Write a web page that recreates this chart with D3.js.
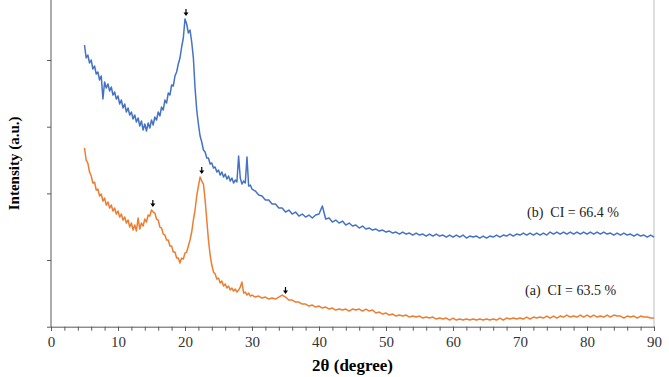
<!DOCTYPE html>
<html>
<head>
<meta charset="utf-8">
<script src="https://cdn.jsdelivr.net/npm/d3@7"></script>
<style>
  body { margin: 0; background: #fff; }
  svg text { font-family: "Liberation Serif", "Times New Roman", serif; }
</style>
</head>
<body>
<div id="chart"></div>
<script>
// 2theta sampling of the scans (fine steps up to 30, then 0.5 deg)
var twoTheta = d3.range(5, 30, 0.25).concat(d3.range(30, 90.01, 0.5));

// (b) CI = 66.4 %  (blue)
var countsB = [
  845, 806, 815, 791, 800, 773, 782, 758, 764, 740,
  752, 683, 734, 716, 728, 707, 719, 695, 704, 683,
  692, 668, 680, 656, 668, 644, 656, 635, 644, 623,
  635, 614, 626, 602, 617, 590, 608, 587, 611, 596,
  620, 605, 629, 620, 644, 632, 659, 650, 680, 671,
  701, 695, 725, 722, 752, 764, 788, 806, 839, 866,
  923, 908, 881, 890, 854, 806, 716, 650, 608, 572,
  554, 530, 524, 506, 506, 488, 491, 476, 479, 464,
  470, 455, 464, 449, 458, 443, 452, 437, 446, 431,
  440, 434, 512, 446, 428, 437, 431, 509, 422, 425,
  413, 407, 395, 392, 380, 380, 368, 368, 356, 356,
  344, 350, 338, 344, 332, 338, 329, 335, 326, 335,
  338, 362, 323, 326, 314, 320, 311, 317, 305, 311,
  302, 305, 296, 302, 293, 296, 290, 293, 287, 290,
  284, 287, 281, 284, 278, 284, 278, 281, 275, 281,
  275, 278, 272, 278, 272, 278, 272, 275, 269, 275,
  269, 275, 269, 275, 266, 272, 269, 272, 266, 272,
  266, 272, 269, 275, 269, 275, 272, 278, 272, 278,
  275, 281, 275, 281, 275, 281, 275, 281, 275, 284,
  278, 284, 278, 284, 278, 284, 278, 284, 278, 284,
  278, 284, 278, 284, 278, 284, 278, 281, 275, 281,
  275, 281, 275, 278, 272, 278, 272, 275, 269, 275,
  269
];

// (a) CI = 63.5 %  (orange)
var countsA = [
  536, 500, 491, 464, 452, 431, 434, 410, 413, 392,
  398, 377, 386, 365, 374, 356, 365, 347, 356, 338,
  347, 329, 338, 320, 329, 311, 320, 299, 311, 290,
  305, 287, 326, 293, 311, 302, 323, 314, 335, 332,
  350, 344, 341, 323, 320, 299, 296, 278, 275, 260,
  260, 242, 242, 224, 224, 206, 206, 191, 206, 203,
  221, 224, 242, 260, 284, 320, 350, 392, 422, 449,
  437, 428, 380, 320, 260, 215, 185, 164, 158, 143,
  146, 131, 137, 122, 128, 116, 122, 110, 116, 107,
  113, 104, 110, 119, 134, 101, 104, 95, 101, 92,
  95, 89, 92, 86, 89, 83, 86, 83, 89, 95,
  89, 80, 80, 74, 74, 68, 68, 62, 65, 59,
  62, 56, 59, 53, 56, 50, 53, 50, 53, 47,
  53, 50, 53, 47, 53, 47, 50, 41, 44, 38,
  41, 35, 38, 32, 35, 32, 35, 29, 32, 29,
  32, 26, 29, 26, 29, 23, 26, 23, 26, 20,
  26, 20, 23, 20, 23, 20, 23, 20, 23, 20,
  23, 20, 23, 20, 26, 20, 26, 23, 26, 23,
  26, 23, 29, 23, 29, 26, 29, 26, 32, 26,
  32, 26, 32, 29, 35, 29, 32, 29, 35, 29,
  35, 29, 35, 29, 32, 29, 35, 29, 35, 32,
  32, 26, 32, 29, 32, 26, 32, 29, 29, 26,
  26
];

// peak markers (arrow tip positions)
var arrowAngles = [20.15, 15.2, 22.5, 35.0];
var arrowCounts = [932, 359, 458, 98];

var xTicks = [0, 10, 20, 30, 40, 50, 60, 70, 80, 90];
var xMinorTicks = d3.range(0, 91, 2);
var yTicks = [0, 200, 400, 600, 800];

var labelB = "(b)  CI = 66.4 %";
var labelA = "(a)  CI = 63.5 %";

var w = 669, h = 377;
var svg = d3.select("#chart").append("svg").attr("width", w).attr("height", h);

var x = d3.scaleLinear().domain([0, 90]).range([51, 654]);
var y = d3.scaleLinear().domain([0, 980]).range([326.7, 0]);

// right border of plot area
svg.append("line")
  .attr("x1", x(90)).attr("x2", x(90))
  .attr("y1", y(980)).attr("y2", y(0))
  .attr("stroke", "#bfbfbf").attr("stroke-width", 1);

// series
var line = d3.line()
  .x(function (d) { return x(d[0]); })
  .y(function (d) { return y(d[1]); });

var dataB = twoTheta.map(function (t, i) { return [t, countsB[i]]; });
var dataA = twoTheta.map(function (t, i) { return [t, countsA[i]]; });

svg.append("path").datum(dataB)
  .attr("d", line).attr("fill", "none")
  .attr("stroke", "#4472c4").attr("stroke-width", 1.5)
  .attr("stroke-linejoin", "round");

svg.append("path").datum(dataA)
  .attr("d", line).attr("fill", "none")
  .attr("stroke", "#ed7d31").attr("stroke-width", 1.5)
  .attr("stroke-linejoin", "round");

// axes
var xAxisMinor = d3.axisBottom(x).tickValues(xMinorTicks).tickSize(4).tickFormat("");
svg.append("g").attr("transform", "translate(0," + y(0) + ")").call(xAxisMinor)
  .call(function (g) {
    g.selectAll("line").attr("stroke", "#595959");
    g.select(".domain").attr("stroke", "#595959");
  });

var xAxis = d3.axisBottom(x).tickValues(xTicks).tickSize(4).tickPadding(6);
svg.append("g").attr("transform", "translate(0," + y(0) + ")").call(xAxis)
  .call(function (g) {
    g.select(".domain").remove();
    g.selectAll("line").attr("stroke", "#595959");
    g.selectAll("text")
      .attr("font-family", "'Liberation Serif', 'Times New Roman', serif")
      .attr("font-size", 15).attr("fill", "#333");
  });

var yAxis = d3.axisLeft(y).tickValues(yTicks).tickSize(4).tickFormat("");
svg.append("g").attr("transform", "translate(" + x(0) + ",0)").call(yAxis)
  .call(function (g) {
    g.selectAll("line").attr("stroke", "#595959");
    g.select(".domain").attr("stroke", "#595959").attr("d", "M0," + y(980) + "V" + y(0));
  });

// arrows
arrowAngles.forEach(function (a, i) {
  var ax = x(a), ay = y(arrowCounts[i]);
  svg.append("line")
    .attr("x1", ax).attr("x2", ax)
    .attr("y1", ay - 7).attr("y2", ay - 3)
    .attr("stroke", "#000").attr("stroke-width", 1.2);
  svg.append("path")
    .attr("d", "M" + (ax - 2.5) + "," + (ay - 3.5) + "L" + (ax + 2.5) + "," + (ay - 3.5) + "L" + ax + "," + ay + "Z")
    .attr("fill", "#000");
});

// annotations
svg.append("text").attr("x", 527).attr("y", 217)
  .attr("font-size", 14).attr("fill", "#222")
  .style("white-space", "pre")
  .text(labelB);
svg.append("text").attr("x", 525).attr("y", 295)
  .attr("font-size", 14).attr("fill", "#222")
  .style("white-space", "pre")
  .text(labelA);

// axis titles
svg.append("text")
  .attr("x", (x(0) + x(90)) / 2).attr("y", 371)
  .attr("text-anchor", "middle")
  .attr("font-size", 17).attr("font-weight", "bold")
  .text("2θ (degree)");

svg.append("text")
  .attr("transform", "translate(19," + (y(490)) + ") rotate(-90)")
  .attr("text-anchor", "middle")
  .attr("font-size", 15).attr("font-weight", "bold")
  .text("Intensity (a.u.)");
</script>
</body>
</html>
